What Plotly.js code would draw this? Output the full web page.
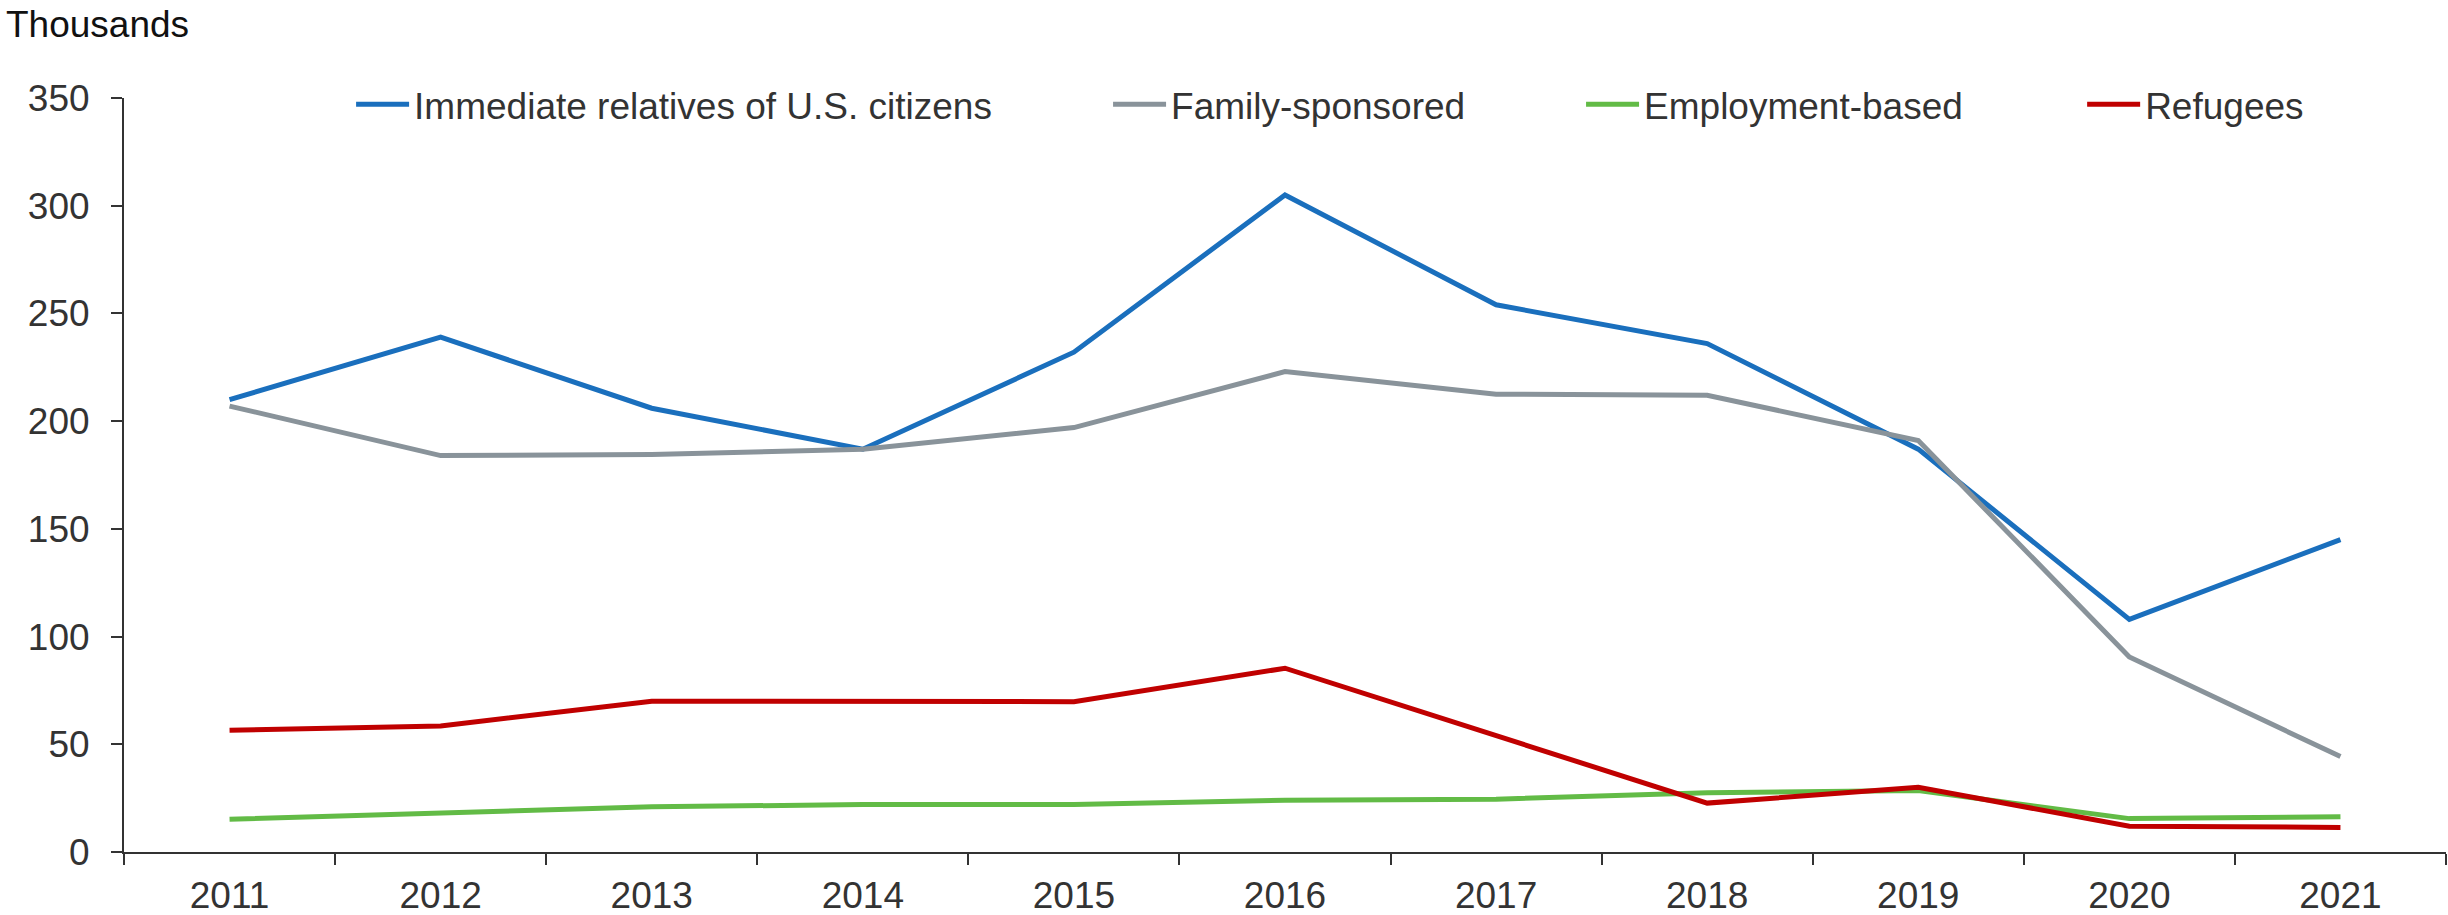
<!DOCTYPE html>
<html>
<head>
<meta charset="utf-8">
<script src="https://cdn.plot.ly/plotly-3.0.1.min.js"></script>
<style>html,body{margin:0;padding:0;background:#fff;}#chart{width:2448px;height:915px;}</style>
</head>
<body>
<div id="chart"></div>
<script>
// Data (thousands)
const years = ['2011','2012','2013','2014','2015','2016','2017','2018','2019','2020','2021'];
const immediateRelatives = [210, 239, 206, 187, 232, 305, 254, 236, 187, 108, 145];
const familySponsored   = [207, 184, 184.5, 187, 197, 223, 212.5, 212, 191, 90.5, 44.3];
const employmentBased   = [15.2, 18, 21, 22, 22, 24, 24.5, 27.5, 28.5, 15.5, 16.4];
const refugees          = [56.5, 58.5, 70, 70, 69.8, 85.3, 54, 22.7, 30, 12, 11.4];
const seriesNames = ['Immediate relatives of U.S. citizens', 'Family-sponsored', 'Employment-based', 'Refugees'];
const yTicks = [0, 50, 100, 150, 200, 250, 300, 350];

const colors = ['#1a6fbd', '#89939a', '#62bb46', '#c00000'];
const allSeries = [immediateRelatives, familySponsored, employmentBased, refugees];
const legendIds = ['legend', 'legend2', 'legend3', 'legend4'];
const legendX = [0.0978, 0.4238, 0.6275, 0.8433];

const traces = allSeries.map((vals, i) => ({
  type: 'scatter', mode: 'lines', x: years, y: vals, name: seriesNames[i],
  line: {color: colors[i], width: 5},
  legend: legendIds[i], hoverinfo: 'skip'
}));

const font = {family: 'Arial, "Liberation Sans", sans-serif', size: 37, color: '#333333'};
const layout = {
  width: 2448, height: 915,
  margin: {l: 124, r: 2, t: 98, b: 63},
  paper_bgcolor: '#ffffff', plot_bgcolor: '#ffffff',
  font: font,
  xaxis: {
    type: 'category', range: [-0.5, 10.5], showgrid: false, zeroline: false,
    showline: true, linecolor: '#333333', linewidth: 2,
    ticks: 'outside', tickson: 'boundaries', ticklen: 11, tickwidth: 2, tickcolor: '#333333',
    tickfont: font, ticklabelstandoff: 10, fixedrange: true
  },
  yaxis: {
    range: [0, 350], tickvals: yTicks, ticktext: yTicks.map(String), showgrid: false, zeroline: false,
    showline: true, linecolor: '#333333', linewidth: 2,
    ticks: 'outside', ticklen: 11, tickwidth: 2, tickcolor: '#333333',
    tickfont: font, ticklabelstandoff: 14, fixedrange: true
  },
  annotations: [{
    text: 'Thousands', xref: 'paper', yref: 'paper', x: -124/2322 + 4/2322, y: 1 + 96/754,
    xanchor: 'left', yanchor: 'top', showarrow: false,
    font: {family: font.family, size: 37, color: '#111111'}
  }],
  showlegend: true
};
legendIds.forEach((id, i) => {
  layout[id] = {
    x: legendX[i], xanchor: 'left', y: 0.991, yanchor: 'middle',
    orientation: 'h', bgcolor: 'rgba(0,0,0,0)', borderwidth: 0,
    itemwidth: 53, font: font, itemclick: false, itemdoubleclick: false
  };
});

Plotly.newPlot('chart', traces, layout, {displayModeBar: false, staticPlot: true});
</script>
</body>
</html>
